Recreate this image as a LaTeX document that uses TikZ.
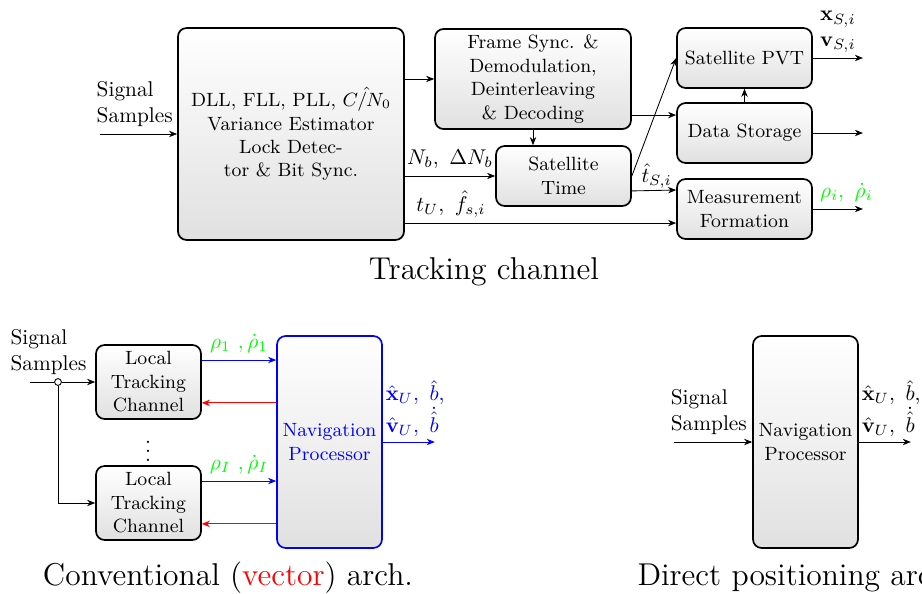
\documentclass[tikz,border=0pt]{standalone}
\usepackage{amsmath}
\usetikzlibrary{arrows.meta}

\begin{document}
\begin{tikzpicture}[x=0.469pt,y=-0.469pt]
    % Styles
    \tikzset{
        block/.style={rectangle, rounded corners=4pt, draw, thick, top color=white, bottom color=black!12, align=center, inner sep=2pt, font=\small},
        arrow/.style={-{Stealth[length=3.8pt,width=3pt]}},
        barrow/.style={arrow, draw=blue},
        rarrow/.style={arrow, draw=red},
        archtitle/.style={font=\fontsize{14.8}{18}\selectfont}
    }
    \clip (0,0) rectangle (922,594);

    % Tracking channel
    \node[block, minimum width=106pt, minimum height=99.4pt] (dll) at (291,134)
        {DLL, FLL, PLL, $\hat{C/N_0}$\\Variance Estimator\\Lock Detec-\\tor \& Bit Sync.};
    \node[block, minimum width=91.9pt, minimum height=46.9pt] (frame) at (533,79)
        {Frame Sync. \&\\Demodulation,\\Deinterleaving\\\& Decoding};
    \node[block, minimum width=63.3pt, minimum height=28.1pt] (sattime) at (563.5,176) {Satellite\\Time};
    \node[block, minimum width=63.3pt, minimum height=28.1pt] (pvt) at (744.5,58) {Satellite PVT};
    \node[block, minimum width=63.3pt, minimum height=28.1pt] (data) at (744.5,133) {Data Storage};
    \node[block, minimum width=63.3pt, minimum height=28.1pt] (meas) at (744.5,209) {Measurement\\Formation};
    \node[archtitle] (tctitle) at (484,272) {Tracking channel};

    \coordinate (sigin) at (100,134);
    \coordinate (dsin) at ([yshift=8.4pt]data.west);
    \coordinate (tuin) at ([yshift=-6.6pt]meas.west);

    \draw[arrow] (sigin) -- node[above, align=left, pos=0.45] {Signal\\Samples} (dll.west);
    \draw[arrow] (dll.east |- frame.west) -- (frame.west);
    \draw[arrow] (dll.east |- sattime.west) -- node[above] {$N_b,\ \Delta N_b$} (sattime.west);
    \draw[arrow] (dll.east |- tuin) -- node[above, pos=0.17, yshift=-1pt] {$t_U,\ \hat{f}_{s,i}$} (tuin);
    \draw[arrow] (frame.south) -- (frame.south |- sattime.north);
    \draw[arrow] (frame.east |- dsin) -- (dsin);
    \draw[arrow] (data.north) -- (pvt.south);
    \draw[arrow] (sattime.east) -- node[at start, right, xshift=1pt] {$\hat{t}_{S,i}$} (pvt.west);
    \draw[arrow] ([yshift=-7pt]sattime.east) -- ([yshift=8.9pt]meas.west);
    \draw[arrow] (pvt.east) -- node[above, align=left, yshift=-1pt] {$\mathbf{x}_{S,i}$\\$\mathbf{v}_{S,i}$} ++(23.5pt,0) coordinate (pvtout);
    \draw[arrow] (data.east) -- ++(23.5pt,0) coordinate (dataout);
    \draw[arrow] (meas.east) -- node[above, text=green, xshift=4pt] {$\rho_i,\ \dot{\rho}_i$} ++(23.5pt,0) coordinate (measout);

    % Conventional (vector) architecture
    \node[block, minimum width=49.2pt, minimum height=34.7pt] (ltc1) at (148.5,382) {Local\\Tracking\\Channel};
    \node[block, minimum width=49.2pt, minimum height=34.7pt] (ltc2) at (148.5,503) {Local\\Tracking\\Channel};
    \node (dots) at (148,445) {$\vdots$};
    \node[block, draw=blue, text=blue, minimum width=49.2pt, minimum height=99.4pt] (navc) at (329.5,442) {Navigation\\Processor};
    \node[circle, draw, fill=white, inner sep=0pt, minimum size=3.2pt] (split) at (58,382) {};
    \node[archtitle] (ctitle) at (228,578) {Conventional (\textcolor{red}{vector}) arch.};

    \coordinate (sigc) at (30,382);
    \coordinate (r1) at ([yshift=10.3pt]ltc1.east);
    \coordinate (f1) at ([yshift=-9.8pt]ltc1.east);
    \coordinate (r2) at ([yshift=10.3pt]ltc2.east);
    \coordinate (f2) at ([yshift=-9.8pt]ltc2.east);

    \draw (sigc) -- node[above, align=left, xshift=3pt] {Signal\\Samples} (split);
    \draw[arrow] (split) -- (ltc1.west);
    \draw[arrow] (split) |- (ltc2.west);
    \draw[barrow] (r1) -- node[above, text=green] {$\rho_1\ ,\dot{\rho}_1$} (r1 -| navc.west);
    \draw[barrow] (r2) -- node[above, text=green] {$\rho_I\ ,\dot{\rho}_I$} (r2 -| navc.west);
    \draw[rarrow] (f1 -| navc.west) -- (f1);
    \draw[rarrow] (f2 -| navc.west) -- (f2);
    \draw[barrow] (navc.east) -- node[above, align=left, text=blue, xshift=3pt, yshift=-1pt]
        {$\hat{\mathbf{x}}_U,\ \hat{b}$,\\$\hat{\mathbf{v}}_U,\ \dot{\hat{b}}$} ++(24.4pt,0) coordinate (navcout);

    % Direct positioning architecture
    \node[block, minimum width=49.2pt, minimum height=99.4pt] (navd) at (805.5,442) {Navigation\\Processor};
    \node[archtitle, anchor=west] (dtitle) at (630,578) {Direct positioning arch.};
    \coordinate (sigd) at (674,442);
    \draw[arrow] (sigd) -- node[above, align=left, xshift=-2pt] {Signal\\Samples} (navd.west);
    \draw[arrow] (navd.east) -- node[above, align=left, xshift=3pt, yshift=-1pt]
        {$\hat{\mathbf{x}}_U,\ \hat{b}$,\\$\hat{\mathbf{v}}_U,\ \dot{\hat{b}}$} ++(24.4pt,0) coordinate (navdout);
\end{tikzpicture}
\end{document}
